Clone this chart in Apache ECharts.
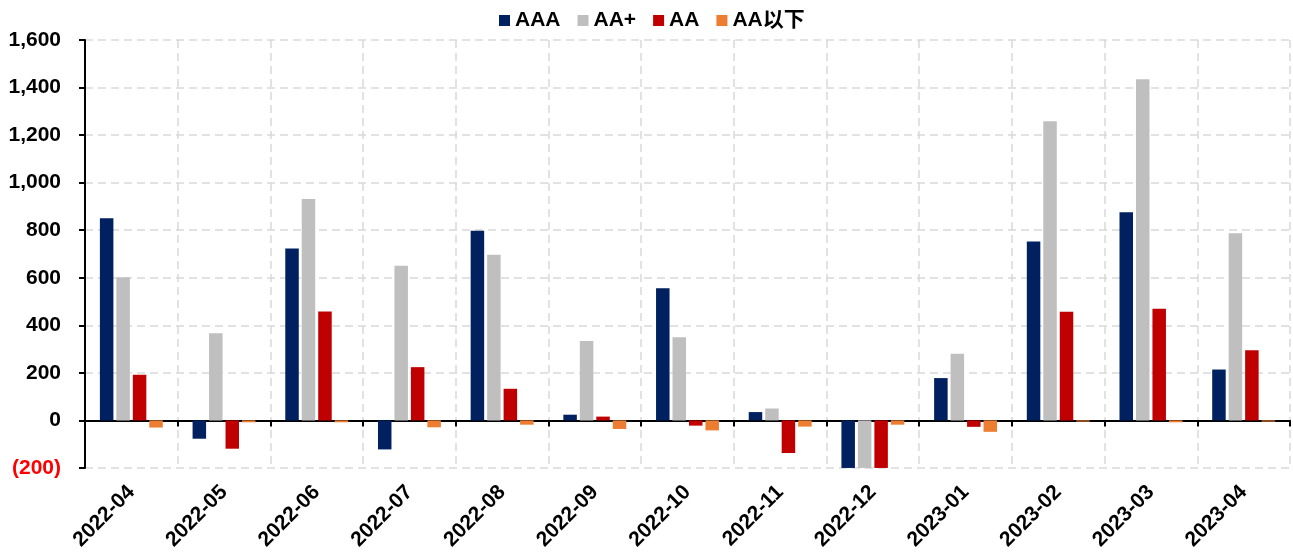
<!DOCTYPE html>
<html>
<head>
<meta charset="utf-8">
<script src="https://cdn.jsdelivr.net/npm/echarts@6/dist/echarts.min.js"></script>
<style>
  html, body { margin: 0; padding: 0; background: #fff; }
  #chart { width: 1293px; height: 553px; }
</style>
</head>
<body>
<div id="chart"></div>
<script>
// Monthly net financing by rating bucket
const months = ['2022-04', '2022-05', '2022-06', '2022-07', '2022-08', '2022-09', '2022-10',
                '2022-11', '2022-12', '2023-01', '2023-02', '2023-03', '2023-04'];
const seriesNames = ['AAA', 'AA+', 'AA', 'AA以下'];
const aaa     = [850, -77, 723, -122, 798, 24, 556, 35, -210, 178, 752, 875, 214];
const aaPlus  = [602, 367, 931, 650, 697, 334, 350, 50, -210, 280, 1258, 1435, 787];
const aa      = [192, -119, 458, 224, 133, 16, -22, -137, -210, -27, 457, 470, 295];
const belowAA = [-30, -8, -8, -29, -18, -36, -42, -26, -18, -48, -5, -8, -5];
const colors  = ['#002060', '#BFBFBF', '#C00000', '#ED7D31'];

const FONT = "'Liberation Sans', Arial, 'Noto Sans CJK SC', sans-serif";
const FS = 21;
const gridLine = { color: '#D9D9D9', width: 1.5, type: [8, 5] };

const chart = echarts.init(document.getElementById('chart'), null, { renderer: 'canvas' });

const values = [aaa, aaPlus, aa, belowAA];

chart.setOption({
  animation: false,
  color: colors,
  legend: {
    top: 5,
    left: 494,
    icon: 'rect',
    itemWidth: 11,
    itemHeight: 11,
    itemGap: 17,
    textStyle: { fontFamily: FONT, fontWeight: 'bold', fontSize: FS, color: '#000' },
    data: seriesNames
  },
  grid: { left: 85, right: 3, top: 40, bottom: 84, containLabel: false },
  xAxis: [
    {
      type: 'category',
      data: months,
      position: 'bottom',
      axisLine: { show: false, onZero: false },
      axisTick: { show: false },
      splitLine: { show: true, lineStyle: gridLine },
      axisLabel: {
        interval: 0,
        rotate: 45,
        margin: 21,
        fontFamily: FONT,
        fontWeight: 'bold',
        fontSize: FS,
        color: '#000'
      }
    },
    {
      type: 'category',
      data: months,
      position: 'bottom',
      axisLine: { show: true, onZero: true, onZeroAxisIndex: 0, lineStyle: { color: '#000', width: 2 } },
      axisTick: { show: true, length: 6, inside: false, lineStyle: { color: '#000', width: 2 } },
      axisLabel: { show: false },
      splitLine: { show: false }
    }
  ],
  yAxis: {
    type: 'value',
    min: -200,
    max: 1600,
    interval: 200,
    axisLine: { show: true, lineStyle: { color: '#000', width: 2 } },
    axisTick: { show: true, length: 6, lineStyle: { color: '#000', width: 2 } },
    splitLine: { show: true, lineStyle: gridLine },
    axisLabel: {
      margin: 24,
      fontFamily: FONT,
      fontWeight: 'bold',
      fontSize: FS,
      color: '#000',
      formatter: function (v) {
        const s = Math.abs(v).toLocaleString('en-US');
        return v < 0 ? '{neg|(' + s + ')}' : s;
      },
      rich: {
        neg: { color: '#FF0000', fontFamily: FONT, fontWeight: 'bold', fontSize: FS }
      }
    }
  },
  series: seriesNames.map(function (name, i) {
    return {
      name: name,
      type: 'bar',
      xAxisIndex: 0,
      data: values[i],
      barWidth: 13.5,
      barGap: '22%',
      clip: true,
      itemStyle: { color: colors[i] }
    };
  })
});
</script>
</body>
</html>
